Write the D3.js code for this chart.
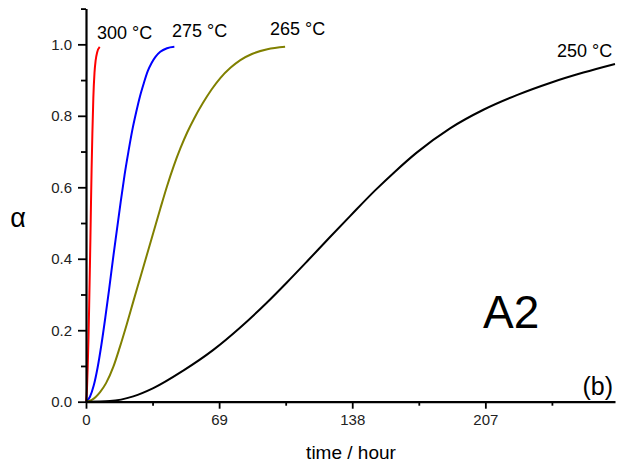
<!DOCTYPE html>
<html>
<head>
<meta charset="utf-8">
<script src="https://cdn.jsdelivr.net/npm/d3@7"></script>
<style>
  body { margin: 0; background: #fff; }
  text { font-family: "Liberation Sans", Arial, sans-serif; }
</style>
</head>
<body>
<div id="chart"></div>
<script>
// Conversion curves: [time in hours, alpha]
const red300 = [[0,0],[0.5,0.035],[0.9,0.1],[1.3,0.18],[1.65,0.27],[2.0,0.37],[2.3,0.46],[2.6,0.56],[2.9,0.65],[3.3,0.75],[3.8,0.85],[4.4,0.92],[5.0,0.955],[5.8,0.978],[7.1,0.993]];
const blue275 = [[0,0],[2,0.013],[4,0.045],[6,0.095],[8,0.16],[10,0.235],[12,0.315],[14,0.4],[16,0.48],[18,0.56],[20,0.635],[22,0.7],[24,0.76],[26,0.81],[28,0.855],[30,0.892],[32,0.925],[34,0.948],[36,0.965],[38.5,0.979],[42,0.989],[45.8,0.993]];
const olive265 = [[0,0],[3,0.005],[7.3,0.027],[10.4,0.052],[14.2,0.098],[17.5,0.152],[21.1,0.216],[24.5,0.28],[28,0.345],[31.5,0.41],[35,0.475],[38.5,0.54],[42,0.603],[45.5,0.66],[49,0.71],[52.5,0.754],[56,0.792],[60.5,0.835],[65,0.873],[69.5,0.905],[75,0.935],[80,0.956],[86,0.973],[94,0.986],[103.2,0.993]];
const black250 = [[0,0],[12.4,0.002],[24.5,0.015],[34.9,0.038],[50.4,0.087],[66,0.145],[79.8,0.207],[93.7,0.277],[104,0.333],[115,0.395],[126,0.458],[137,0.52],[150,0.592],[160,0.643],[171.4,0.697],[188.7,0.765],[206,0.817],[223.3,0.858],[240.5,0.892],[257.8,0.921],[274.2,0.945]];

const series = [
  {name: "300 \u00B0C", color: "#ff0000", data: red300},
  {name: "275 \u00B0C", color: "#0000ff", data: blue275},
  {name: "265 \u00B0C", color: "#808000", data: olive265},
  {name: "250 \u00B0C", color: "#000000", data: black250}
];

const xTicks = [0, 69, 138, 207];
const xMinor = [34.5, 103.5, 172.5, 241.5];
const yTicks = [0, 0.2, 0.4, 0.6, 0.8, 1.0];
const yMinor = [0.1, 0.3, 0.5, 0.7, 0.9, 1.1];

const width = 619, height = 465;

const svg = d3.select("#chart")
  .append("svg")
  .attr("width", width)
  .attr("height", height);

const x = d3.scaleLinear()
  .domain([0, 274.2])
  .range([86, 615]);

const y = d3.scaleLinear()
  .domain([0, 1.1])
  .range([401.7, 8.6]);

// Draw the curves
const line = d3.line()
  .curve(d3.curveMonotoneX)
  .x(d => x(d[0]))
  .y(d => y(d[1]));

svg.append("g")
  .selectAll("path")
  .data(series)
  .join("path")
    .attr("d", d => line(d.data))
    .attr("fill", "none")
    .attr("stroke", d => d.color)
    .attr("stroke-width", 2);

// Axes
svg.append("g")
    .attr("transform", `translate(0,${y(0)})`)
  .call(d3.axisBottom(x).tickValues(xTicks).tickFormat(d3.format("d")).tickSize(7).tickSizeOuter(0).tickPadding(6));

svg.append("g")
    .attr("transform", `translate(0,${y(0)})`)
  .call(d3.axisBottom(x).tickValues(xMinor).tickFormat("").tickSize(4).tickSizeOuter(0))
  .call(g => g.select(".domain").remove());

svg.append("g")
    .attr("transform", `translate(${x(0)},0)`)
  .call(d3.axisLeft(y).tickValues(yTicks).tickFormat(d3.format(".1f")).tickSize(8).tickSizeOuter(0).tickPadding(6));

svg.append("g")
    .attr("transform", `translate(${x(0)},0)`)
  .call(d3.axisLeft(y).tickValues(yMinor).tickFormat("").tickSize(5).tickSizeOuter(0))
  .call(g => g.select(".domain").remove());

svg.selectAll(".domain").attr("stroke", "#000").attr("stroke-width", 2.2);
svg.selectAll(".tick line").attr("stroke", "#000").attr("stroke-width", 1.8);
svg.selectAll(".tick text")
  .style("font-family", "'Liberation Sans', Arial, sans-serif")
  .style("font-size", "15px")
  .attr("fill", "#222");

// Axis titles
svg.append("text")
  .attr("x", 351)
  .attr("y", 459)
  .attr("text-anchor", "middle")
  .style("font-size", "19px")
  .text("time / hour");

svg.append("text")
  .attr("x", 18)
  .attr("y", 227)
  .attr("text-anchor", "middle")
  .style("font-size", "27px")
  .text("\u03B1");

// Curve labels
const labelPos = [[97, 39], [172, 37], [270, 35], [557, 57]];
svg.append("g")
  .selectAll("text")
  .data(series)
  .join("text")
    .attr("x", (d, i) => labelPos[i][0])
    .attr("y", (d, i) => labelPos[i][1])
    .style("font-size", "18px")
    .text(d => d.name);

// Panel annotations
svg.append("text")
  .attr("x", 483)
  .attr("y", 328)
  .style("font-size", "46px")
  .text("A2");

svg.append("text")
  .attr("x", 613)
  .attr("y", 395)
  .attr("text-anchor", "end")
  .style("font-size", "25px")
  .text("(b)");
</script>
</body>
</html>
